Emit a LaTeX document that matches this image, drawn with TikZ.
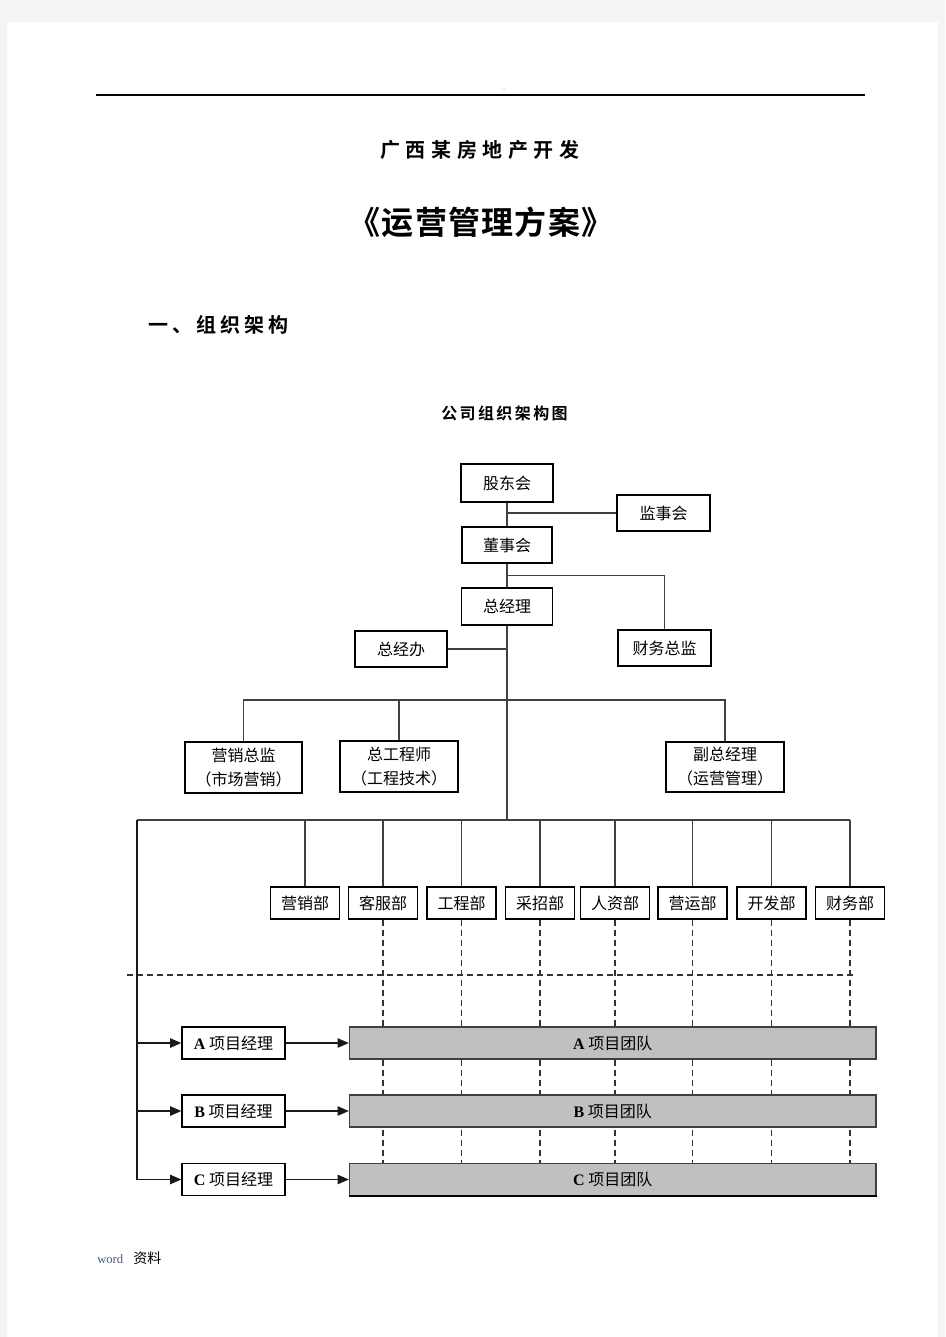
\documentclass[tikz,border=0pt]{standalone}
\usepackage{fontspec}
\setmainfont{Liberation Serif}
\newfontfamily\cjk{Noto Sans CJK SC}
\newfontfamily\lat{Liberation Serif}
\newfontfamily\ttlA[LetterSpace=28]{Noto Sans CJK SC Bold}
\newfontfamily\ttlB[LetterSpace=4]{Noto Sans CJK SC Bold}
\newfontfamily\ttlC[LetterSpace=20]{Noto Sans CJK SC Bold}
\newfontfamily\ttlD[LetterSpace=15]{Noto Sans CJK SC Bold}
\usetikzlibrary{arrows.meta,calc}
\definecolor{pagegray}{HTML}{F4F4F4}
\definecolor{teamgray}{HTML}{C0C0C0}
\definecolor{connc}{HTML}{404040}
\definecolor{wordc}{HTML}{4A5A8A}
\pgfdeclarelayer{back}
\pgfdeclarelayer{bg}
\pgfsetlayers{back,bg,main}
\begin{document}
\begin{tikzpicture}[x=0.75pt,y=-0.75pt,
  box/.style={draw=black, line width=0.9pt, fill=white, inner sep=0pt,
    font=\cjk\fontsize{12}{18}\selectfont, align=center},
  conn/.style={draw=connc, line width=1.1pt},
  dash line/.style={draw=black!80, line width=0.8pt, dash pattern=on 4.5pt off 3pt},
  arr/.style={draw=black!90, line width=1.2pt, -{Triangle[length=8.5pt,width=7pt]}},
  team/.style={draw=black!75, line width=0.9pt, fill=teamgray, minimum width=394.9pt,
    minimum height=24pt, inner sep=0pt, font=\cjk\fontsize{12}{14}\selectfont},
  mgr/.style={box, minimum width=77.25pt, minimum height=24pt, font=\cjk\fontsize{12}{14}\selectfont},
  dept/.style={box, minimum width=51.75pt, minimum height=24pt},
]
\useasboundingbox (0,0) rectangle (945,1337);
\begin{pgfonlayer}{back}
  \fill[pagegray] (0,0) rectangle (945,1337);
  \fill[white] (7,22) rectangle (938,1337);
\end{pgfonlayer}

% header
\coordinate (hl) at (96,95);
\coordinate (hr) at (865,95);
\draw[line width=1pt] (hl) -- (hr);
\node[font=\fontsize{4}{4}\selectfont, text=black!60, inner sep=0pt] (dots) at (504,90) {..};

% titles
\node[anchor=west, inner sep=0pt, font=\ttlA\fontsize{15}{15}\selectfont] (t1) at (380,150) {广西某房地产开发};
\node[inner sep=0pt, font=\ttlB\fontsize{24}{24}\selectfont] (t2) at (481,222) {《运营管理方案》};
\node[anchor=west, inner sep=0pt, font=\ttlC\fontsize{15}{15}\selectfont] (t3) at (148,325) {一、组织架构};
\node[anchor=west, inner sep=0pt, font=\ttlD\fontsize{12}{12}\selectfont] (t4) at (441,413) {公司组织架构图};

% top chain
\node[box, minimum width=69pt, minimum height=28.5pt] (gd) at (507,483) {股东会};
\node[box, minimum width=69.75pt, minimum height=27pt] (js) at (663.5,513) {监事会};
\node[box, minimum width=67.5pt, minimum height=27pt] (ds) at (507,545) {董事会};
\node[box, minimum width=68.25pt, minimum height=27.75pt] (zjl) at (507,606.5) {总经理};
\node[box, minimum width=69pt, minimum height=27pt] (zjb) at (401,649) {总经办};
\node[box, minimum width=69.75pt, minimum height=27pt] (cwz) at (664.5,648) {财务总监};

\draw[conn] (gd.south) -- (ds.north);
\draw[conn] (gd.south |- js.west) -- (js.west);
\draw[conn] (ds.south) -- (zjl.north);
\draw[conn] ($(ds.south)!0.5!(zjl.north)$) -| (cwz.north);

\coordinate (bar1) at (507,700);
\coordinate (hub) at (507,820);
\coordinate (lft) at (137,820);
\draw[conn] (zjl.south) -- (hub);
\draw[conn] (zjb.east) -- (zjb.east -| zjl.south);

% second level
\node[box, minimum width=87.75pt, minimum height=38.25pt] (yx) at (243.5,767.5) {营销总监\\（市场营销）};
\node[box, minimum width=88.5pt, minimum height=38.25pt] (zgc) at (399,766.5) {总工程师\\（工程技术）};
\node[box, minimum width=88.5pt, minimum height=37.5pt] (fz) at (725,767) {副总经理\\（运营管理）};

\draw[conn] (yx.north) -- (yx.north |- bar1) -- (fz.north |- bar1) -- (fz.north);
\draw[conn] (zgc.north) -- (zgc.north |- bar1);

% departments
\foreach \n/\x/\t in {1/305/营销部, 2/383/客服部, 3/461.5/工程部, 4/540/采招部,
                      5/615/人资部, 6/692.5/营运部, 7/771.5/开发部, 8/850/财务部}{
  \node[dept] (d\n) at (\x,903) {\t};
}
\draw[conn] (lft) -- (d8.north |- lft);
\foreach \n in {1,...,8}{
  \draw[conn] (d\n.north) -- (d\n.north |- lft);
}

% dashed separator
\coordinate (dl) at (127,975);
\coordinate (dr) at (857,975);
\draw[dash line] (dl) -- (dr);

% project managers and teams
\node[mgr] (mA) at (233.5,1043) {{\lat\bfseries A} 项目经理};
\node[mgr] (mB) at (233.5,1111) {{\lat\bfseries B} 项目经理};
\node[mgr] (mC) at (233.5,1179.5) {{\lat\bfseries C} 项目经理};
\node[team] (tA) at (612.75,1043) {{\lat\bfseries A} 项目团队};
\node[team] (tB) at (612.75,1111) {{\lat\bfseries B} 项目团队};
\node[team] (tC) at (612.75,1179.5) {{\lat\bfseries C} 项目团队};
\draw[line width=1.2pt] (tC.south west) -- (tC.south east);

\begin{pgfonlayer}{bg}
  \foreach \n in {2,...,8}{
    \draw[dash line] (d\n.south) -- (d\n.south |- tC.north);
  }
\end{pgfonlayer}

\draw[arr] (lft) |- (mC.west);
\draw[arr] (lft |- mA.west) -- (mA.west);
\draw[arr] (lft |- mB.west) -- (mB.west);
\draw[arr] (mA.east) -- (tA.west);
\draw[arr] (mB.east) -- (tB.west);
\draw[arr] (mC.east) -- (tC.west);

% footer
\node[anchor=west, inner sep=0pt, font=\lat\fontsize{9.5}{9.5}\selectfont, text=wordc] (fw) at (97,1259) {word};
\node[anchor=west, inner sep=0pt, font=\cjk\fontsize{10.5}{10.5}\selectfont] (fzl) at (133,1258) {资料};
\end{tikzpicture}
\end{document}
